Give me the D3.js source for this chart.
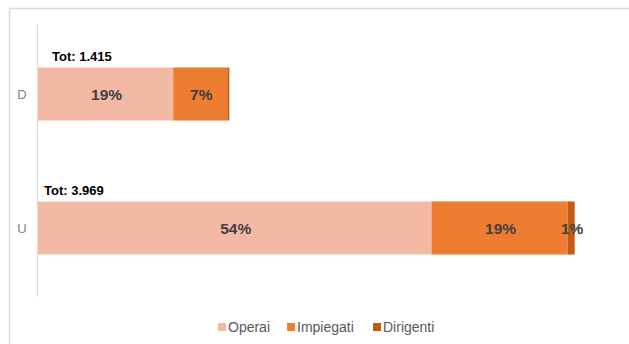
<!DOCTYPE html>
<html><head><meta charset="utf-8">
<script src="https://cdn.jsdelivr.net/npm/d3@7"></script>
<style>body{margin:0;background:#fff}svg{display:block;font-family:"Liberation Sans",Arial,sans-serif}</style>
</head><body><svg id="c" width="629" height="344"></svg>
<script>
const categories = ["D", "U"];
const series = ["Operai", "Impiegati", "Dirigenti"];
const operai = [1000, 2910];
const impiegati = [400, 1007];
const dirigenti = [15, 52];
const totLabels = ["Tot: 1.415", "Tot: 3.969"];
const colors = ["#F4B9A5", "#ED7D31", "#C55A11"];

const grand = d3.sum(operai) + d3.sum(impiegati) + d3.sum(dirigenti);
const rows = categories.map((c, i) => ({cat: c, Operai: operai[i], Impiegati: impiegati[i], Dirigenti: dirigenti[i]}));
const stack = d3.stack().keys(series)(rows);

const svg = d3.select("#c");
svg.append("path").attr("d", "M9.5,344 V8.5 H629").attr("fill", "none").attr("stroke", "#d9d9d9").attr("stroke-width", 1.5);

const x = d3.scaleLinear().domain([0, grand]).range([38, 38 + 728]);
const y = d3.scaleBand().domain(categories).range([25, 297]).paddingInner(0.604).paddingOuter(0.317);

svg.append("line").attr("x1", 37.5).attr("x2", 37.5).attr("y1", 25).attr("y2", 297).attr("stroke", "#d9d9d9");

svg.append("g").selectAll("g").data(stack).join("g").attr("fill", (d, i) => colors[i])
  .selectAll("rect").data(d => d).join("rect")
  .attr("x", d => x(d[0])).attr("width", d => x(d[1]) - x(d[0]))
  .attr("y", d => y(d.data.cat)).attr("height", y.bandwidth());

svg.append("g").selectAll("g").data(stack).join("g")
  .selectAll("text").data(d => d.filter(v => (v[1] - v[0]) / grand >= 0.005)).join("text")
  .attr("x", d => (x(d[0]) + x(d[1])) / 2 + 1).attr("y", d => y(d.data.cat) + y.bandwidth() / 2 + 6)
  .attr("text-anchor", "middle").attr("font-size", 15.5).attr("font-weight", "bold").attr("fill", "#404040")
  .text(d => Math.round((d[1] - d[0]) / grand * 100) + "%");

svg.append("g").selectAll("text").data(categories).join("text")
  .attr("x", 22).attr("y", d => y(d) + y.bandwidth() / 2 + 5).attr("text-anchor", "middle")
  .attr("font-size", 13).attr("fill", "#7f7f7f").text(d => d);

const totX = [52, 44];
svg.append("g").selectAll("text").data(totLabels).join("text")
  .attr("x", (d, i) => totX[i]).attr("y", (d, i) => y(categories[i]) - 6)
  .attr("font-size", 13).attr("font-weight", "bold").attr("fill", "#000").text(d => d);

const lx = [218, 287, 373];
const lg = svg.append("g").selectAll("g").data(series).join("g")
  .attr("transform", (d, i) => `translate(${lx[i]},332)`);
lg.append("rect").attr("x", 0).attr("y", -9).attr("width", 8).attr("height", 8).attr("fill", (d, i) => colors[i]);
lg.append("text").attr("x", 10).attr("y", 0).attr("font-size", 14).attr("fill", "#595959").text(d => d);
</script></body></html>
